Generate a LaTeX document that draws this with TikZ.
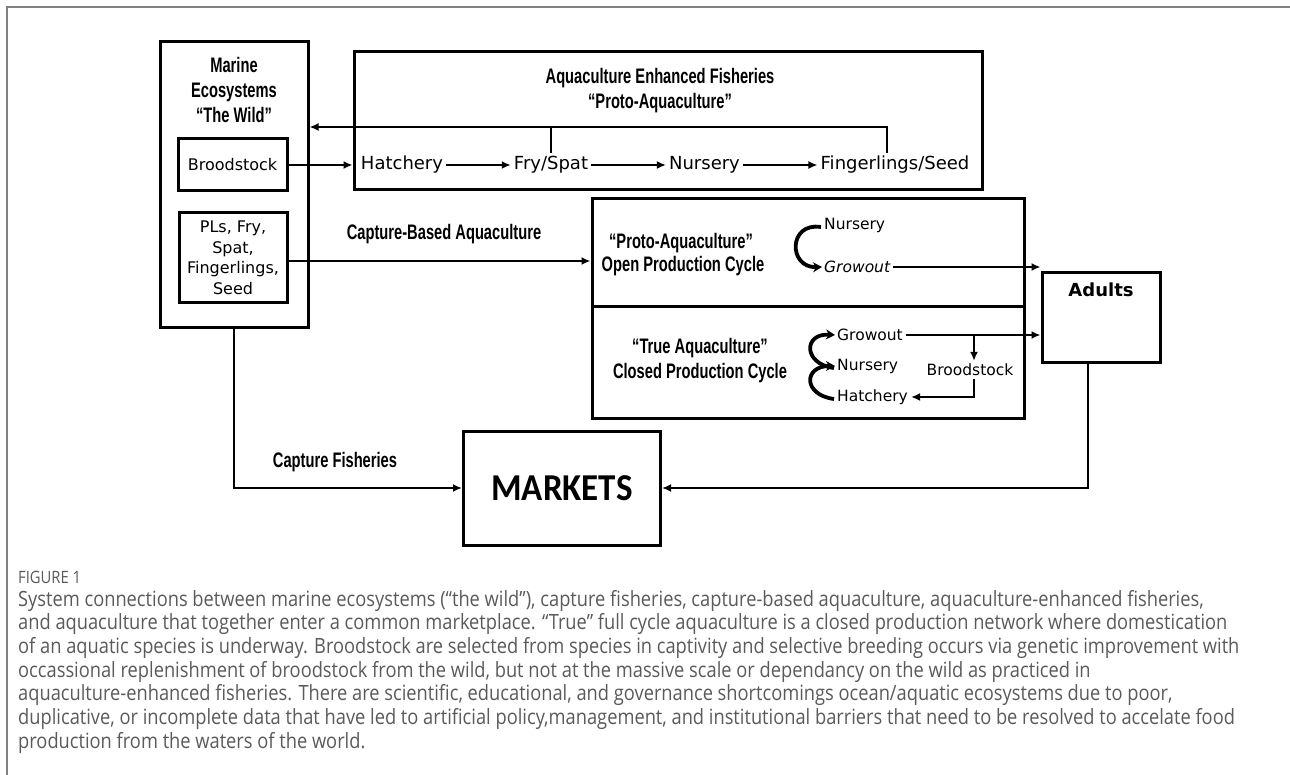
\documentclass[tikz,border=0pt]{standalone}
\usepackage{fontspec}
\usetikzlibrary{arrows.meta,calc}
\newfontfamily\comicf{DejaVu Sans}
\newfontfamily\condf[FakeStretch=0.70]{Liberation Sans}
\newfontfamily\capf[FakeStretch=0.87]{Open Sans}
\newfontfamily\mktf[FakeStretch=0.92]{Carlito}
\definecolor{capgray}{HTML}{5A5A5A}
\begin{document}
\begin{tikzpicture}[x=1pt,y=-1pt,
  box/.style={draw,line width=3,inner sep=0,minimum width=#1},
  conn/.style={line width=2.4,-{Latex[length=9,width=8]}},
  plain/.style={line width=2.4},
  curv/.style={line width=3.8,-{Stealth[length=9,width=10]}},
  comic/.style={font=\comicf\fontsize{18}{22}\selectfont,inner sep=3},
  comics/.style={font=\comicf\fontsize{15.5}{19}\selectfont,inner sep=3},
  cond/.style={font=\condf\bfseries\fontsize{21}{25}\selectfont,inner sep=2,align=center},
  capline/.style={anchor=base west,inner sep=0,font=\capf\fontsize{21}{24}\selectfont,text=capgray}]
\useasboundingbox (0,0) rectangle (1290,775);
\draw[line width=1.5,gray] (7,775) -- (7,7) -- (1290,7);

% boxes
\node[box=148,minimum height=286] (marine) at (234,185) {};
\node[box=109,minimum height=52,comic,font=\comicf\fontsize{16}{19}\selectfont] (brood) at (232.5,165) {Broodstock};
\node[box=108,minimum height=90,align=center,font=\comicf\fontsize{16}{20.5}\selectfont] (pls) at (233,258) {PLs, Fry,\\Spat,\\Fingerlings,\\Seed};
\node[box=628,minimum height=138] (aef) at (668,121) {};
\node[box=432,minimum height=108] (pa) at (808,253) {};
\node[box=432,minimum height=111] (ta) at (808,362.5) {};
\node[box=118,minimum height=90] (adults) at (1101,318) {};
\node[box=197,minimum height=114,font=\mktf\bfseries\fontsize{38}{42}\selectfont] (markets) at (562,488) {MARKETS};

% titles
\node[cond] (mtitle) at (234,90) {Marine\\Ecosystems\\“The Wild”};
\node[cond] (aeft) at (660,91) {Aquaculture Enhanced Fisheries\\“Proto-Aquaculture”};
\node[font=\comicf\bfseries\fontsize{18}{21}\selectfont] (adt) at (1101,290) {Adults};

% AEF row
\node[comic] (hatch) at (402,165) {Hatchery};
\node[comic] (fry) at (551,165) {Fry/Spat};
\node[comic] (nurs) at (704.5,165) {Nursery};
\node[comic] (fing) at (895,165) {Fingerlings/Seed};
\draw[conn] (hatch) -- (fry);
\draw[conn] (fry) -- (nurs);
\draw[conn] (nurs) -- (fing);
\draw[conn] (brood.east) -- (brood.east -| aef.west);
\coordinate (fb) at (887,127);
\draw[conn] ([xshift=-8]fing.north) -- (fb) -- (fb -| marine.east);
\draw[plain] (fb -| fry.north) -- (fry.north);

% capture-based
\draw[conn] ([yshift=-3]pls.east) -- ([yshift=-3]pls.east -| pa.west);
\node[cond] (cba) at (444,234) {Capture-Based Aquaculture};

% proto box
\node[cond] (pt1) at (681,243) {“Proto-Aquaculture”};
\node[cond] (pt2) at (683,266) {Open Production Cycle};
\node[comics,anchor=west] (n2) at (821,225) {Nursery};
\node[comics,anchor=west,font=\comicf\itshape\fontsize{15.5}{19}\selectfont] (g2) at (821,267) {Growout};
\draw[curv] ([yshift=-2]n2.west) .. controls (788,222) and (788,268) .. ([xshift=1]g2.west);
\draw[conn] (g2.east) -- (g2.east -| adults.west);

% true box
\node[cond] (tt1) at (700,348) {“True Aquaculture”};
\node[cond] (tt2) at (700,373) {Closed Production Cycle};
\node[comics,anchor=west] (g3) at (834,335) {Growout};
\node[comics,anchor=west] (n3) at (834,366) {Nursery};
\node[comics,anchor=west] (h3) at (834,397) {Hatchery};
\node[comics] (b3) at (970,370) {Broodstock};
\draw[curv] ([yshift=-2]n3.west) .. controls (803,364) and (803,333) .. ([xshift=1]g3.west);
\draw[curv] ([yshift=-2]h3.west) .. controls (803,395) and (803,366) .. ([xshift=1]n3.west);
\coordinate (br) at (974,335);
\draw[conn] (g3.east) -- (g3.east -| adults.west);
\draw[conn] (br) -- (br |- b3.north);
\draw[conn] (br |- b3.south) |- (h3.east);

% markets
\draw[conn] (marine.south) |- (markets.west);
\draw[conn] ([xshift=-13]adults.south) |- (markets.east);
\node[cond] (cf) at (335,462) {Capture Fisheries};

% caption
\node[capline,font=\capf\fontsize{17}{20}\selectfont] (fig) at (18,583) {FIGURE 1};
\node[capline] (c1) at (18,606) {System connections between marine ecosystems (“the wild”), capture fisheries, capture-based aquaculture, aquaculture-enhanced fisheries,};
\node[capline] (c2) at (18,629.7) {and aquaculture that together enter a common marketplace. “True” full cycle aquaculture is a closed production network where domestication};
\node[capline] (c3) at (18,653.4) {of an aquatic species is underway. Broodstock are selected from species in captivity and selective breeding occurs via genetic improvement with};
\node[capline] (c4) at (18,677.1) {occassional replenishment of broodstock from the wild, but not at the massive scale or dependancy on the wild as practiced in};
\node[capline] (c5) at (18,700.8) {aquaculture-enhanced fisheries. There are scientific, educational, and governance shortcomings ocean/aquatic ecosystems due to poor,};
\node[capline] (c6) at (18,724.5) {duplicative, or incomplete data that have led to artificial policy,management, and institutional barriers that need to be resolved to accelate food};
\node[capline] (c7) at (18,748.2) {production from the waters of the world.};
\end{tikzpicture}
\end{document}
